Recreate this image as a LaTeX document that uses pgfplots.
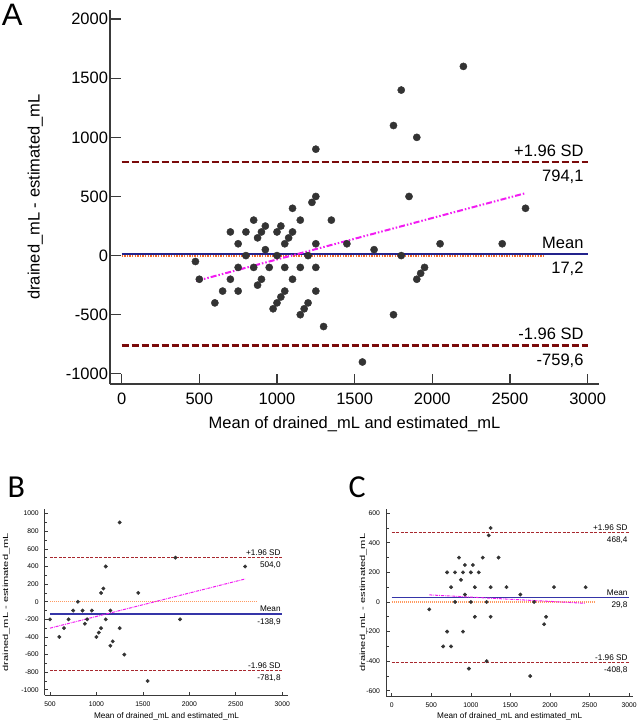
\documentclass[border=0pt]{standalone}
\usepackage{fontspec}
\setmainfont{Liberation Sans}
\newfontfamily\panelfont{Carlito}
\usepackage{pgfplots}
\pgfplotsset{compat=1.18}

\definecolor{sdred}{HTML}{7A0A0A}
\definecolor{sdredlt}{HTML}{A8282E}
\definecolor{meanblue}{HTML}{23238C}
\definecolor{meanbluelt}{HTML}{3535A8}
\definecolor{zeroorange}{HTML}{F26B2A}
\definecolor{zeroorangelt}{HTML}{FF9A60}
\definecolor{regmag}{HTML}{F21BF2}
\definecolor{dotgray}{HTML}{333333}
\definecolor{axisgray}{HTML}{3A3A3A}

\newcommand\fA{\fontsize{16.5}{19}\selectfont}
\newcommand\fBt{\fontsize{6.8}{8}\selectfont}
\newcommand\fBy{\fontsize{7.4}{8.6}\selectfont}
\newcommand\fBl{\fontsize{8.2}{9.8}\selectfont}

\pgfplotsset{
  ba/.style={
    scale only axis,
    axis x line*=bottom, axis y line*=left,
    axis line style={-, draw=axisgray},
    tick style={draw=axisgray},
    tick align=inside,
    /pgf/number format/assume math mode=true,
    /pgf/number format/1000 sep={},
    xlabel={Mean of drained\_mL and estimated\_mL},
  },
}

\begin{document}
\begin{tikzpicture}
\useasboundingbox (0pt,0pt) rectangle (641pt,-723pt);

% ---------------- A ----------------
\begin{axis}[ba,
  at={(110pt,-384pt)}, anchor=south west,
  width=489pt, height=374pt,
  xmin=-75, xmax=3073, ymin=-1086, ymax=2077,
  xtick={0,500,...,3000}, ytick={-1000,-500,...,2000},
  major tick length=10.5pt,
  axis line style={line width=1.3pt}, tick style={line width=1.3pt},
  ticklabel style={font=\fA},
  xticklabel style={yshift=-5.5pt},
  yticklabel style={xshift=1.5pt},
  ylabel={drained\_mL - estimated\_mL},
  every axis x label/.style={at={(axis description cs:0.5,-0.108)}, anchor=center, font=\fA},
  every axis y label/.style={at={(axis description cs:-0.153,0.5)}, anchor=center, rotate=90, font=\fA},
]
\addplot[only marks, mark=*, mark size=3.6pt, mark options={draw=dotgray, fill=dotgray}] coordinates {
(2200,1600) (1800,1400) (1750,1100) (1900,1000) (1250,900) (1850,500) (1250,500)
(1225,450) (1100,400) (2600,400) (850,300) (1150,300) (1350,300) (925,250) (1025,250)
(700,200) (800,200) (900,200) (1000,200) (1100,200) (875,150) (1075,150)
(750,100) (1050,100) (1250,100) (1450,100) (2050,100) (2450,100) (925,50) (1625,50)
(800,0) (1000,0) (1200,0) (1800,0) (475,-50)
(750,-100) (850,-100) (950,-100) (1050,-100) (1150,-100) (1250,-100) (1950,-100)
(1925,-150) (1900,-200) (500,-200) (700,-200) (900,-200) (1100,-200) (875,-250)
(650,-300) (750,-300) (1050,-300) (1250,-300) (1025,-350) (600,-400) (1000,-400)
(1200,-400) (975,-450) (1175,-450) (1150,-500) (1750,-500) (1300,-600) (1550,-900)
};
\addplot[sdred, line width=2.2pt, dash pattern=on 7pt off 3pt] coordinates {(0,794.1) (3000,794.1)};
\addplot[sdred, line width=2.2pt, dash pattern=on 7pt off 3pt] coordinates {(0,-759.6) (3000,-759.6)};
\addplot[zeroorange, line width=2pt, dash pattern=on 1.3pt off 1.3pt] coordinates {(0,0) (2715,0)};
\addplot[meanblue, line width=2pt] coordinates {(0,17.2) (3000,17.2)};
\addplot[regmag, line width=2pt, dash pattern=on 6pt off 2pt on 1.5pt off 2pt on 1.5pt off 2pt] coordinates {(480,-215) (2600,528)};
\node[font=\fA, inner sep=0pt, anchor=base east, xshift=-4pt, yshift=5.5pt] at (axis cs:3000,794.1) {+1.96 SD};
\node[font=\fA, inner sep=0pt, anchor=north east, xshift=-4pt, yshift=-8.3pt] at (axis cs:3000,794.1) {794,1};
\node[font=\fA, inner sep=0pt, anchor=base east, xshift=-4pt, yshift=5.5pt] at (axis cs:3000,17.2) {Mean};
\node[font=\fA, inner sep=0pt, anchor=north east, xshift=-4pt, yshift=-8.3pt] at (axis cs:3000,17.2) {17,2};
\node[font=\fA, inner sep=0pt, anchor=base east, xshift=-4pt, yshift=5.5pt] at (axis cs:3000,-759.6) {-1.96 SD};
\node[font=\fA, inner sep=0pt, anchor=north east, xshift=-4pt, yshift=-8.3pt] at (axis cs:3000,-759.6) {-759,6};
\end{axis}

% ---------------- B ----------------
\begin{axis}[ba,
  at={(44.7pt,-695pt)}, anchor=south west,
  width=243.6pt, height=185.7pt,
  xmin=443, xmax=3065, ymin=-1059, ymax=1049,
  xtick={500,1000,...,3000}, ytick={-1000,-800,...,1000},
  minor y tick num=1,
  major tick length=3.5pt, minor tick length=2.5pt,
  axis line style={line width=0.8pt}, tick style={line width=0.7pt},
  ticklabel style={font=\fBt},
  xticklabel style={yshift=-3pt},
  yticklabel style={xshift=-2.5pt},
  ylabel={\scalebox{1.5}[1]{drained\_mL - estimated\_mL}},
  every axis x label/.style={at={(axis description cs:0.5,-0.113)}, anchor=center, font=\fBl},
  every axis y label/.style={at={(axis description cs:-0.158,0.5)}, anchor=center, rotate=90, font=\fBy},
]
\addplot[only marks, mark=*, mark size=1.75pt, mark options={draw=dotgray, fill=dotgray}] coordinates {
(1250,900) (1850,500) (2600,400) (1100,400) (1075,150) (1050,100) (1450,100) (800,0)
(500,-200) (750,-100) (850,-100) (950,-100) (1150,-100) (700,-200) (900,-200) (1100,-200)
(875,-250) (1900,-200) (650,-300) (1050,-300) (1250,-300) (1025,-350) (600,-400) (1000,-400)
(1175,-450) (1150,-500) (1300,-600) (1550,-900)
};
\addplot[sdredlt, line width=1.1pt, dash pattern=on 3pt off 1.5pt] coordinates {(500,504.0) (3000,504.0)};
\addplot[sdredlt, line width=1.1pt, dash pattern=on 3pt off 1.5pt] coordinates {(500,-781.8) (3000,-781.8)};
\addplot[zeroorangelt, line width=1.2pt, dash pattern=on 1pt off 1pt] coordinates {(500,0) (2730,0)};
\addplot[meanbluelt, line width=1.1pt] coordinates {(500,-138.9) (3000,-138.9)};
\addplot[regmag, line width=1pt, dash pattern=on 3pt off 1pt on 0.8pt off 1pt] coordinates {(500,-300) (2600,258)};
\node[font=\fBl, inner sep=0pt, anchor=base east, xshift=-1.5pt, yshift=2.3pt] at (axis cs:3000,504.0) {+1.96 SD};
\node[font=\fBl, inner sep=0pt, anchor=north east, xshift=-1.5pt, yshift=-4.4pt] at (axis cs:3000,504.0) {504,0};
\node[font=\fBl, inner sep=0pt, anchor=base east, xshift=-1.5pt, yshift=2.3pt] at (axis cs:3000,-138.9) {Mean};
\node[font=\fBl, inner sep=0pt, anchor=north east, xshift=-1.5pt, yshift=-4.4pt] at (axis cs:3000,-138.9) {-138,9};
\node[font=\fBl, inner sep=0pt, anchor=base east, xshift=-1.5pt, yshift=2.3pt] at (axis cs:3000,-781.8) {-1.96 SD};
\node[font=\fBl, inner sep=0pt, anchor=north east, xshift=-1.5pt, yshift=-4.4pt] at (axis cs:3000,-781.8) {-781,8};
\end{axis}

% ---------------- C ----------------
\begin{axis}[ba,
  at={(386pt,-696pt)}, anchor=south west,
  width=247.3pt, height=186.7pt,
  xmin=-72, xmax=3052, ymin=-635, ymax=626,
  xtick={0,500,...,3000}, ytick={-600,-400,...,600},
  minor y tick num=1,
  major tick length=3.5pt, minor tick length=2.5pt,
  axis line style={line width=0.8pt}, tick style={line width=0.7pt},
  ticklabel style={font=\fBt},
  xticklabel style={yshift=-3pt},
  yticklabel style={xshift=-2.5pt},
  ylabel={\scalebox{1.5}[1]{drained\_mL - estimated\_mL}},
  every axis x label/.style={at={(axis description cs:0.5,-0.107)}, anchor=center, font=\fBl},
  every axis y label/.style={at={(axis description cs:-0.092,0.5)}, anchor=center, rotate=90, font=\fBy},
]
\addplot[only marks, mark=*, mark size=1.75pt, mark options={draw=dotgray, fill=dotgray}] coordinates {
(1250,500) (1225,450) (850,300) (1150,300) (1350,300) (925,250) (1025,250)
(700,200) (800,200) (900,200) (1000,200) (1100,200) (875,150)
(750,100) (1050,100) (1250,100) (1450,100) (2050,100) (2450,100) (925,50) (1625,50)
(800,0) (1000,0) (1200,0) (1800,0) (475,-50) (1050,-100) (1250,-100) (1950,-100)
(1925,-150) (700,-200) (900,-200) (650,-300) (750,-300) (1200,-400) (975,-450) (1750,-500)
};
\addplot[sdredlt, line width=1.1pt, dash pattern=on 3pt off 1.5pt] coordinates {(0,468.4) (3000,468.4)};
\addplot[sdredlt, line width=1.1pt, dash pattern=on 3pt off 1.5pt] coordinates {(0,-408.8) (3000,-408.8)};
\addplot[zeroorangelt, line width=1.2pt, dash pattern=on 1pt off 1pt] coordinates {(0,0) (2566,0)};
\addplot[meanbluelt, line width=1.1pt] coordinates {(0,29.8) (3000,29.8)};
\addplot[regmag, line width=1pt, dash pattern=on 3pt off 1pt on 0.8pt off 1pt] coordinates {(475,48) (2450,-9)};
\node[font=\fBl, inner sep=0pt, anchor=base east, xshift=-1.5pt, yshift=2.3pt] at (axis cs:3000,468.4) {+1.96 SD};
\node[font=\fBl, inner sep=0pt, anchor=north east, xshift=-1.5pt, yshift=-4.4pt] at (axis cs:3000,468.4) {468,4};
\node[font=\fBl, inner sep=0pt, anchor=base east, xshift=-1.5pt, yshift=2.3pt] at (axis cs:3000,29.8) {Mean};
\node[font=\fBl, inner sep=0pt, anchor=north east, xshift=-1.5pt, yshift=-4.4pt] at (axis cs:3000,29.8) {29,8};
\node[font=\fBl, inner sep=0pt, anchor=base east, xshift=-1.5pt, yshift=2.3pt] at (axis cs:3000,-408.8) {-1.96 SD};
\node[font=\fBl, inner sep=0pt, anchor=north east, xshift=-1.5pt, yshift=-4.4pt] at (axis cs:3000,-408.8) {-408,8};
\end{axis}

% panel letters
\node[font=\fontsize{31}{34}\selectfont, inner sep=0pt, anchor=base west] at (1.7pt,-25pt) {A};
\node[font=\panelfont\fontsize{32}{36}\selectfont, inner sep=0pt, anchor=base west] at (7.5pt,-497.3pt) {B};
\node[font=\panelfont\fontsize{32}{36}\selectfont, inner sep=0pt, anchor=base west] at (348.4pt,-497.3pt) {C};
\end{tikzpicture}
\end{document}
